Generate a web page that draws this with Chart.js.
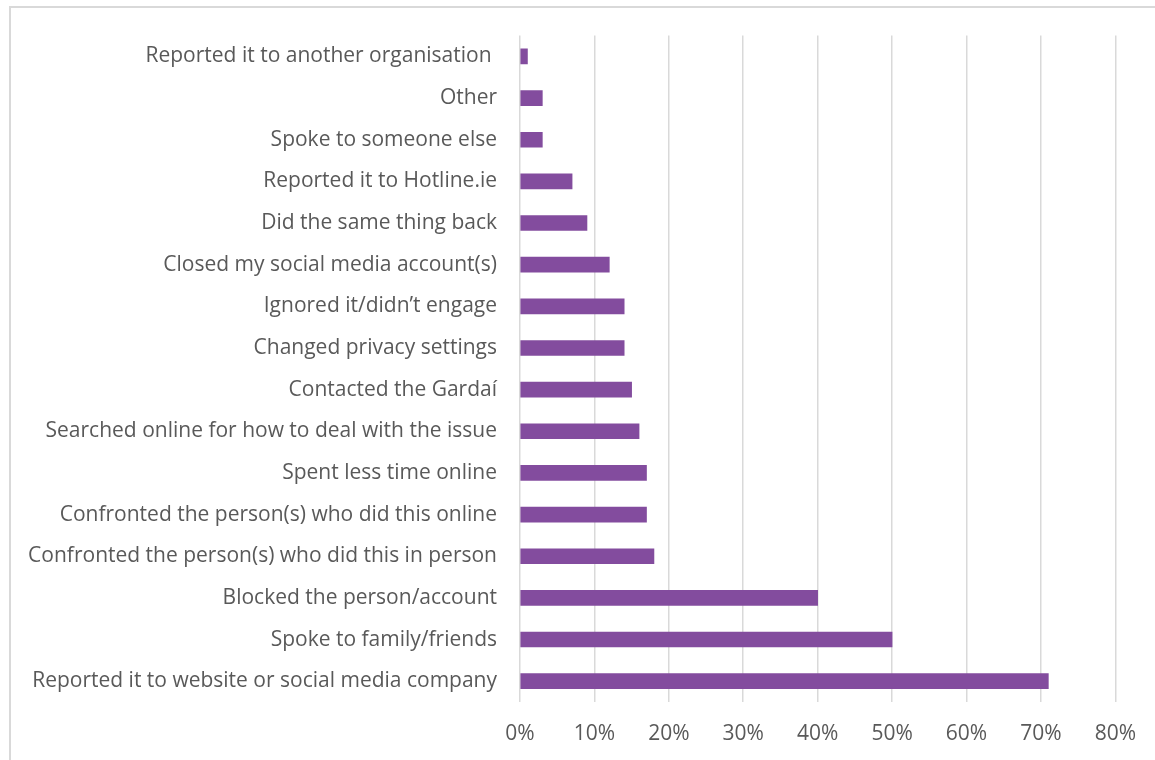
<!DOCTYPE html>
<html>
<head>
<meta charset="utf-8">
<script src="https://cdn.jsdelivr.net/npm/chart.js@4.4.1/dist/chart.umd.min.js"></script>
<style>
html,body{margin:0;padding:0;background:#fff;overflow:hidden;}
#wrap{position:relative;width:1155px;height:760px;}
#frame{position:absolute;left:9px;top:6px;width:1200px;height:800px;border-left:2px solid #d9d9d9;border-top:2px solid #d9d9d9;box-sizing:border-box;}
canvas{position:absolute;left:0;top:0;}
</style>
</head>
<body>
<div id="wrap">
<div id="frame"></div>
<canvas id="c" width="1155" height="760"></canvas>
</div>
<script>
const categories = [
  "Reported it to another organisation ",
  "Other",
  "Spoke to someone else",
  "Reported it to Hotline.ie",
  "Did the same thing back",
  "Closed my social media account(s)",
  "Ignored it/didn\u2019t engage",
  "Changed privacy settings",
  "Contacted the Garda\u00ed",
  "Searched online for how to deal with the issue",
  "Spent less time online",
  "Confronted the person(s) who did this online",
  "Confronted the person(s) who did this in person",
  "Blocked the person/account",
  "Spoke to family/friends",
  "Reported it to website or social media company"
];
const values = [1, 3, 3, 7, 9, 12, 14, 14, 15, 16, 17, 17, 18, 40, 50, 71];
const tickValues = [0, 10, 20, 30, 40, 50, 60, 70, 80];

const FONT = "'Open Sans', 'Liberation Sans', sans-serif";
new Chart(document.getElementById('c'), {
  type: 'bar',
  data: {
    labels: categories,
    datasets: [{
      data: values,
      backgroundColor: '#834C9E',
      borderWidth: 0,
      barThickness: 15
    }]
  },
  options: {
    indexAxis: 'y',
    responsive: false,
    animation: false,
    layout: { padding: { left: 0, top: 35, right: 38, bottom: 0 } },
    plugins: { legend: { display: false }, tooltip: { enabled: false } },
    scales: {
      x: {
        min: 0, max: 80,
        afterBuildTicks: (s) => { s.ticks = tickValues.map(v => ({ value: v })); },
        afterFit: (s) => { s.height = 58; },
        grid: { color: '#d9d9d9', lineWidth: 1.5, drawTicks: false },
        border: { display: false },
        ticks: {
          color: '#595959',
          font: { family: FONT, size: 21 },
          padding: 19,
          callback: (v) => v + '%'
        }
      },
      y: {
        afterFit: (s) => { s.width = 520; },
        grid: { display: false, drawTicks: false },
        border: { display: false },
        ticks: {
          color: '#595959',
          font: { family: FONT, size: 21 },
          padding: 23,
          autoSkip: false
        }
      }
    }
  }
});
</script>
</body>
</html>
